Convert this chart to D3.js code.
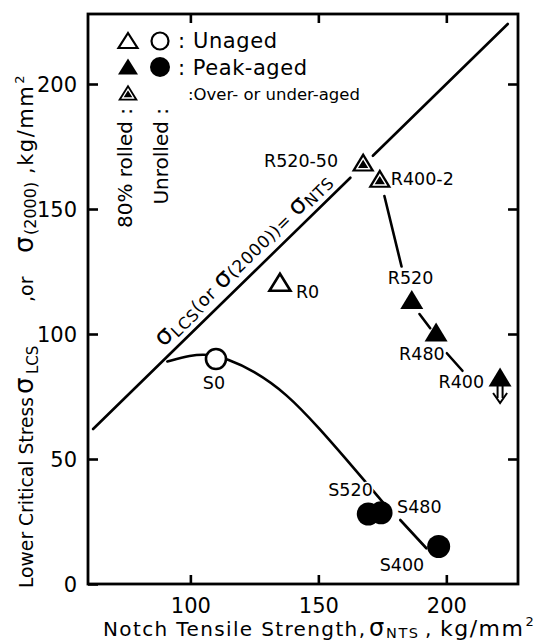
<!DOCTYPE html>
<html><head><meta charset="utf-8">
<script src="https://cdn.jsdelivr.net/npm/d3@7"></script>
<style>body{margin:0;background:#fff}svg{display:block}</style>
</head><body>
<svg id="c" width="551" height="644"></svg>
<script>
// ---------- data ----------
const xTickValues = [100, 150, 200];
const yTickValues = [0, 50, 100, 150, 200];
const rightTickValues = [50, 100, 150, 200];
const xDomain = [60, 228];
const yDomain = [0, 228];

const unagedTriangles = [{label: "R0", x: 135, y: 120}];
const unagedCircles = [{label: "S0", x: 110, y: 90}];
const peakTriangles = [{label: "R520", x: 186.5, y: 113}, {label: "R480", x: 196, y: 100}, {label: "R400", x: 221, y: 82}];
const peakCircles = [{label: "S520", x: 169.5, y: 28}, {label: "S480", x: 174.5, y: 28.5}, {label: "S400", x: 197, y: 15}];
const overUnderTriangles = [{label: "R520-50", x: 167.5, y: 168}, {label: "R400-2", x: 174, y: 161.5}];
const arrowPoints = ["R400"];

const unrolledCurve = [[91, 89], [100, 91.5], [107, 92], [114.6, 90], [124.4, 85.5], [137.5, 76.3], [150.6, 62], [161.1, 49.6], [168.9, 40.3], [176.7, 30.9]];
const s480ToS400 = [[182, 25.6], [192.2, 14.3]];
const r4002ToR520 = [[175.8, 155.2], [182.5, 127]];
const r520ToR480 = [[189.5, 108], [193.7, 102.3]];
const r480ToR400 = [[200.2, 92.3], [206.3, 85.3]];
const equalityLineLower = [[62, 62], [162.5, 162.5]];
const equalityLineUpper = [[171.3, 171.3], [224, 224]];

const legendRows = [": Unaged", ": Peak-aged", ":Over- or under-aged"];

// ---------- layout ----------
const FONT = "'DejaVu Sans', Verdana, sans-serif";
const svg = d3.select("#c");
const x = d3.scaleLinear().domain(xDomain).range([88, 518]);
const y = d3.scaleLinear().domain(yDomain).range([584, 14]);
const SW = 2.6;

const labelOffsets = {
  "R0": [16, 14, "start"], "R520-50": [-25, 3, "end"], "R400-2": [11, 5, "start"],
  "R520": [-24, -18, "start"], "R480": [-37, 26, "start"], "R400": [-16, 9, "end"],
  "S0": [-2, 30, "middle"], "S520": [-40, -18, "start"], "S480": [16, 0, "start"], "S400": [-59, 24, "start"]
};

function triPath(w, h) {
  return `M0,${-h * 0.6}L${w / 2},${h * 0.4}L${-w / 2},${h * 0.4}Z`;
}
function innerTriPath(w, h, k) {
  const cy = h * 0.0667;
  const pts = [[0, -h * 0.6], [w / 2, h * 0.4], [-w / 2, h * 0.4]].map(p => [p[0] * k, cy + (p[1] - cy) * k]);
  return `M${pts[0]}L${pts[1]}L${pts[2]}Z`;
}

// ---------- frame & axes ----------
const g = svg.append("g");
g.append("rect").attr("x", 88).attr("y", 14).attr("width", 430).attr("height", 570)
  .attr("fill", "none").attr("stroke", "#000").attr("stroke-width", 2.8);

const ax = g.append("g").attr("transform", "translate(0,584)")
  .call(d3.axisBottom(x).tickValues(xTickValues).tickSize(-9).tickPadding(14).tickFormat(d3.format("d")));
const ay = g.append("g").attr("transform", "translate(88,0)")
  .call(d3.axisLeft(y).tickValues(yTickValues).tickSize(-10).tickPadding(11).tickFormat(d3.format("d")));
const at = g.append("g").attr("transform", "translate(0,14)")
  .call(d3.axisTop(x).tickValues(xTickValues).tickSize(-9).tickFormat(""));
const ar = g.append("g").attr("transform", "translate(518,0)")
  .call(d3.axisRight(y).tickValues(rightTickValues).tickSize(-10).tickFormat(""));
[ax, ay, at, ar].forEach(a => {
  a.select(".domain").remove();
  a.selectAll("line").attr("stroke", "#000").attr("stroke-width", SW);
  a.selectAll("text").attr("font-family", FONT).attr("font-size", 21).attr("fill", "#000");
});
ay.selectAll("text").attr("dy", "0.36em");

// ---------- lines ----------
const line = d3.line().x(d => x(d[0])).y(d => y(d[1]));
const curve = d3.line().x(d => x(d[0])).y(d => y(d[1])).curve(d3.curveBasis);
const lines = g.append("g").attr("fill", "none").attr("stroke", "#000").attr("stroke-width", SW).attr("stroke-linecap", "round");
[equalityLineLower, equalityLineUpper, s480ToS400, r4002ToR520, r520ToR480, r480ToR400].forEach(seg => {
  lines.append("path").attr("d", line(seg));
});
lines.append("path").attr("d", curve(unrolledCurve));

// ---------- markers ----------
const mk = g.append("g");
mk.selectAll(".ut").data(unagedTriangles).join("path")
  .attr("transform", d => `translate(${x(d.x)},${y(d.y)})`).attr("d", triPath(21, 17))
  .attr("fill", "#fff").attr("stroke", "#000").attr("stroke-width", SW).attr("stroke-linejoin", "miter");
mk.selectAll(".uc").data(unagedCircles).join("circle")
  .attr("cx", d => x(d.x)).attr("cy", d => y(d.y)).attr("r", 10)
  .attr("fill", "#fff").attr("stroke", "#000").attr("stroke-width", SW);
mk.selectAll(".pt").data(peakTriangles).join("path")
  .attr("transform", d => `translate(${x(d.x)},${y(d.y)})`).attr("d", triPath(23, 19)).attr("fill", "#000");
mk.selectAll(".pc").data(peakCircles).join("circle")
  .attr("cx", d => x(d.x)).attr("cy", d => y(d.y)).attr("r", 11.5).attr("fill", "#000");
const ou = mk.selectAll(".ou").data(overUnderTriangles).join("g")
  .attr("transform", d => `translate(${x(d.x)},${y(d.y)})`);
ou.append("path").attr("d", triPath(23, 19)).attr("fill", "#000");
ou.append("path").attr("d", innerTriPath(23, 19, 0.55)).attr("fill", "none").attr("stroke", "#fff").attr("stroke-width", 1.4);

// arrow under R400
peakTriangles.filter(d => arrowPoints.includes(d.label)).forEach(d => {
  const px = x(d.x), py = y(d.y);
  const a = mk.append("g").attr("transform", `translate(${px},${py})`).attr("fill", "none")
    .attr("stroke", "#000").attr("stroke-width", 2);
  a.append("path").attr("d", "M-2.5,7V19M2.5,7V19");
  a.append("path").attr("d", "M-7,14L0,24L7,14");
});

// ---------- point labels ----------
const allPts = [].concat(unagedTriangles, unagedCircles, peakTriangles, peakCircles, overUnderTriangles);
g.append("g").selectAll("text").data(allPts).join("text")
  .attr("x", d => x(d.x) + labelOffsets[d.label][0])
  .attr("y", d => y(d.y) + labelOffsets[d.label][1])
  .attr("text-anchor", d => labelOffsets[d.label][2])
  .attr("font-family", FONT).attr("font-size", 17.5).attr("fill", "#000")
  .attr("stroke", "#fff").attr("stroke-width", 3).attr("paint-order", "stroke")
  .text(d => d.label);

// ---------- diagonal label ----------
{
  const ang = Math.atan2(y(100) - y(0), x(100) - x(0)) * 180 / Math.PI;
  const px = x(92), py = y(92);
  const t = g.append("text").attr("transform", `translate(${px},${py}) rotate(${ang}) translate(0,-9)`)
    .attr("font-family", FONT).attr("font-size", 18).attr("letter-spacing", 0.6).attr("fill", "#000");
  t.append("tspan").attr("font-size", 25).text("σ");
  t.append("tspan").attr("font-size", 16).attr("dy", 3).text("LCS");
  t.append("tspan").attr("dy", -3).text("(or ");
  t.append("tspan").attr("font-size", 25).text("σ");
  t.append("tspan").attr("font-size", 17).text("(2000))= ");
  t.append("tspan").attr("font-size", 25).text("σ");
  t.append("tspan").attr("font-size", 16).attr("dy", 3).text("NTS");
}

// ---------- legend ----------
{
  const lg = g.append("g");
  const rowsY = [42, 68, 94];
  lg.append("path").attr("transform", `translate(128,${rowsY[0]})`).attr("d", triPath(19, 15))
    .attr("fill", "#fff").attr("stroke", "#000").attr("stroke-width", 2.2);
  lg.append("circle").attr("cx", 160).attr("cy", rowsY[0] - 1).attr("r", 8.5)
    .attr("fill", "#fff").attr("stroke", "#000").attr("stroke-width", 2.2);
  lg.append("path").attr("transform", `translate(128,${rowsY[1]})`).attr("d", triPath(20, 16)).attr("fill", "#000");
  lg.append("circle").attr("cx", 160).attr("cy", rowsY[1] - 1).attr("r", 10).attr("fill", "#000");
  const h = lg.append("g").attr("transform", `translate(128,${rowsY[2]})`);
  h.append("path").attr("d", triPath(20, 16)).attr("fill", "#000");
  h.append("path").attr("d", innerTriPath(20, 16, 0.55)).attr("fill", "none").attr("stroke", "#fff").attr("stroke-width", 1.3);

  const lx = [178, 178, 188], lb = [48, 75, 100], lf = [21, 21, 16.5];
  legendRows.forEach((s, i) => {
    const t = lg.append("text").attr("x", lx[i]).attr("y", lb[i]).attr("font-family", FONT).attr("font-size", lf[i]).text(s);
    if (i === 0) t.attr("textLength", 99).attr("lengthAdjust", "spacing");
    if (i === 1) t.attr("textLength", 129).attr("lengthAdjust", "spacing");
  });
  lg.append("text").attr("transform", "translate(132,108) rotate(-90)").attr("text-anchor", "end")
    .attr("font-family", FONT).attr("font-size", 20).text("80% rolled :");
  lg.append("text").attr("transform", "translate(168,108) rotate(-90)").attr("text-anchor", "end")
    .attr("font-family", FONT).attr("font-size", 20).text("Unrolled :");
}

// ---------- axis titles ----------
{
  const yt = g.append("g").attr("transform", "translate(33,588) rotate(-90)")
    .attr("font-family", FONT).attr("font-size", 19).attr("fill", "#000");
  yt.append("text").attr("x", 0).attr("textLength", 191).attr("lengthAdjust", "spacingAndGlyphs").text("Lower Critical Stress");
  yt.append("text").attr("x", 194).attr("font-size", 26).text("σ");
  yt.append("text").attr("x", 214).attr("y", 5).attr("font-size", 15).text("LCS");
  yt.append("text").attr("x", 286).text(",or");
  yt.append("text").attr("x", 335).attr("font-size", 26).text("σ");
  yt.append("text").attr("x", 353).attr("y", 3).attr("font-size", 16).text("(2000)");
  const kg = yt.append("text").attr("x", 414).attr("font-size", 21).attr("letter-spacing", 1.5).text(",kg/mm");
  const kgEnd = 414 + kg.node().getComputedTextLength();
  yt.append("text").attr("x", kgEnd + 1).attr("y", -9).attr("font-size", 13).text("2");

  const xt = g.append("g").attr("transform", "translate(0,636)")
    .attr("font-family", FONT).attr("font-size", 20).attr("fill", "#000");
  xt.append("text").attr("x", 103).attr("textLength", 262).attr("lengthAdjust", "spacing").text("Notch Tensile Strength,");
  xt.append("text").attr("x", 369).attr("font-size", 24).text("σ");
  xt.append("text").attr("x", 386).attr("y", 2).attr("font-size", 14.5).attr("textLength", 32).attr("lengthAdjust", "spacing").text("NTS");
  xt.append("text").attr("x", 425).text(",");
  const km = xt.append("text").attr("x", 440).attr("font-size", 22).attr("letter-spacing", 1.5).text("kg/mm");
  const kmEnd = 440 + km.node().getComputedTextLength();
  xt.append("text").attr("x", kmEnd + 1).attr("y", -10).attr("font-size", 13).text("2");
}
</script>
</body></html>
